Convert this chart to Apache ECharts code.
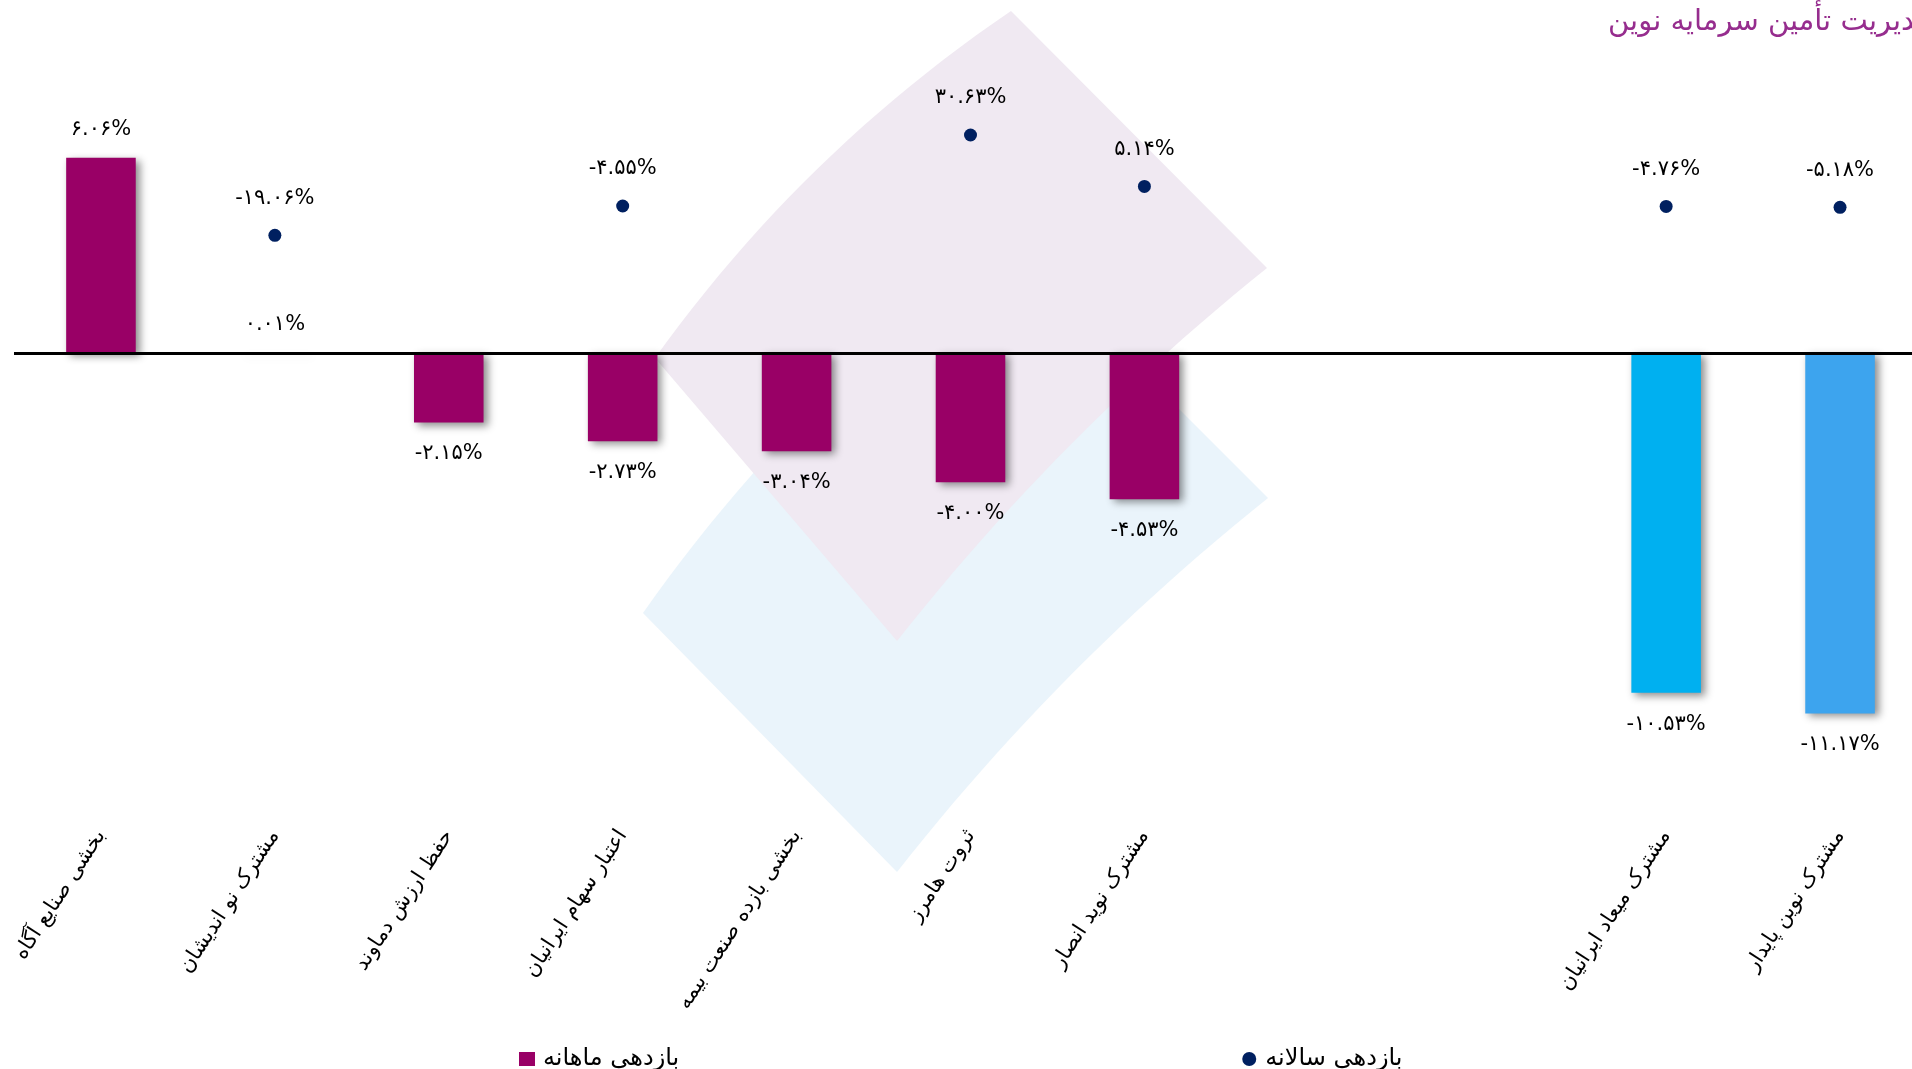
<!DOCTYPE html>
<html>
<head>
<meta charset="utf-8">
<script src="https://cdn.jsdelivr.net/npm/echarts@6/dist/echarts.min.js"></script>
<style>
html,body{margin:0;padding:0;background:#fff;}
#main{width:1912px;height:1069px;}
</style>
</head>
<body>
<div id="main"></div>
<script>
// ---- data ----
const categories = ['بخشی صنایع آگاه','مشترک نو اندیشان','حفظ ارزش دماوند','اعتبار سهام ایرانیان','بخشی بازده صنعت بیمه','ثروت هامرز','مشترک نوید انصار','','','مشترک میعاد ایرانیان','مشترک نوین پایدار'];
const monthlyReturn = [6.06, 0.01, -2.15, -2.73, -3.04, -4.00, -4.53, null, null, -10.53, -11.17];
const annualReturn = [null, -19.06, null, -4.55, null, 30.63, 5.14, null, null, -4.76, -5.18];
const seriesNames = ['بازدهی ماهانه', 'بازدهی سالانه'];
const titleText = 'مدیریت تأمین سرمایه نوین';
// ---- styles ----
const barColors = ['#990066','#990066','#990066','#990066','#990066','#990066','#990066','#990066','#990066','#00B0F0','#3DA4EE'];
const FONT = "'DejaVu Sans', sans-serif";

const faDigits = '۰۱۲۳۴۵۶۷۸۹';
function fa(v){
  return (v.toFixed(2) + '%').replace(/[0-9]/g, d => faDigits[+d]);
}

// decorative watermark outline (logo), sampled curves
function quad(p0, c, p1, n){
  const pts = [];
  for (let i = 0; i <= n; i++){
    const t = i / n, a = (1-t)*(1-t), b = 2*(1-t)*t, d = t*t;
    pts.push([a*p0[0] + b*c[0] + d*p1[0], a*p0[1] + b*c[1] + d*p1[1]]);
  }
  return pts;
}
function logoShape(L, C1, T, R, C2, B){
  return quad(L, C1, T, 24).concat(quad(R, C2, B, 24));
}
const blueShape = logoShape([643,613],[795,396],[1011,241],[1268,498],[1060,664],[897,872]);
const pinkShape = logoShape([655,358],[802,153],[1011,11],[1267,268],[1061,433],[897,641]);

const chart = echarts.init(document.getElementById('main'));
chart.setOption({
  backgroundColor: '#fff',
  animation: false,
  title: {
    text: titleText,
    left: 1608, top: 8, padding: 0,
    textStyle: { fontFamily: FONT, fontSize: 29, fontWeight: 'normal', color: '#962d8e' }
  },
  graphic: [
    { type: 'polygon', z: -10, silent: true, shape: { points: blueShape }, style: { fill: '#eaf4fb' } },
    { type: 'polygon', z: -10, silent: true, shape: { points: pinkShape }, style: { fill: '#f0e9f2' } }
  ],
  legend: {
    left: 514, top: 1042,
    itemGap: 563, itemWidth: 16, itemHeight: 14,
    textStyle: { fontFamily: FONT, fontSize: 24, color: '#000', padding: [0, 0, 0, 3] },
    data: [ { name: seriesNames[0], icon: 'rect' }, { name: seriesNames[1], icon: 'circle' } ]
  },
  grid: { left: 14, right: -15, top: 63, bottom: 245, outerBoundsMode: 'none', containLabel: false },
  xAxis: {
    type: 'category',
    data: categories,
    axisLine: { show: false },
    axisTick: { show: false },
    splitLine: { show: false },
    axisLabel: { interval: 0, rotate: 57, margin: 8, fontFamily: FONT, fontSize: 21, color: '#000' }
  },
  yAxis: [
    { type: 'value', min: -14.6, max: 9, show: false, splitLine: { show: false } },
    { type: 'value', min: -310.7, max: 66.3, show: false, splitLine: { show: false } }
  ],
  series: [
    {
      name: seriesNames[0],
      type: 'bar',
      yAxisIndex: 0,
      barWidth: '40%',
      color: '#990066',
      data: monthlyReturn.map((v, i) => v == null ? null : ({
        value: v,
        itemStyle: { color: barColors[i] },
        label: { position: v >= 0 ? 'top' : 'bottom', distance: v >= 0 ? 18 : 21 }
      })),
      itemStyle: { shadowColor: 'rgba(0,0,0,0.45)', shadowBlur: 8, shadowOffsetX: 4, shadowOffsetY: 3 },
      label: { show: true, fontFamily: FONT, fontSize: 21, color: '#000', formatter: p => fa(p.value) },
      markLine: {
        silent: true, symbol: 'none', animation: false,
        label: { show: false },
        lineStyle: { color: '#000', width: 3, type: 'solid' },
        data: [ { yAxis: 0 } ]
      }
    },
    {
      name: seriesNames[1],
      type: 'scatter',
      yAxisIndex: 1,
      symbolSize: 13,
      color: '#002060',
      itemStyle: { opacity: 1 },
      data: annualReturn,
      label: { show: true, position: 'top', distance: 20, fontFamily: FONT, fontSize: 21, color: '#000', formatter: p => fa(p.value) }
    }
  ]
});
</script>
</body>
</html>
